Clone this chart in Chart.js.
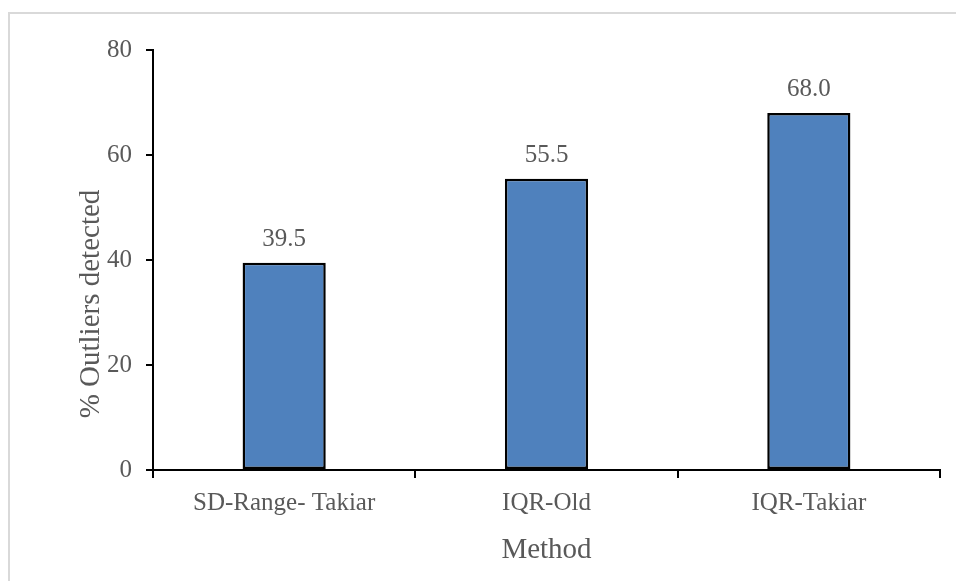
<!DOCTYPE html>
<html>
<head>
<meta charset="utf-8">
<script src="https://cdn.jsdelivr.net/npm/chart.js@4/dist/chart.umd.min.js"></script>
<style>
  html, body { margin: 0; padding: 0; background: #ffffff; }
  #wrap { position: relative; width: 956px; height: 581px; }
</style>
</head>
<body>
<div id="wrap"><canvas id="chart"></canvas></div>
<script>
// Share of outliers detected by each method
const methods = ['SD-Range- Takiar', 'IQR-Old', 'IQR-Takiar'];
const outlierPct = [39.5, 55.5, 68.0];
const yTitle = '% Outliers detected';
const xTitle = 'Method';

const FONT = "'Liberation Serif', 'Times New Roman', serif";
const TEXT = '#595959';

// Light frame around the chart box
const framePlugin = {
  id: 'frame',
  beforeDraw(chart) {
    const ctx = chart.ctx;
    ctx.save();
    ctx.strokeStyle = '#d9d9d9';
    ctx.lineWidth = 2;
    ctx.beginPath();
    ctx.moveTo(9, chart.height + 2);
    ctx.lineTo(9, 13);
    ctx.lineTo(chart.width + 2, 13);
    ctx.stroke();
    ctx.restore();
  }
};

// Value labels above each bar, and the vertical axis title
const labelPlugin = {
  id: 'valueLabels',
  afterDatasetsDraw(chart) {
    const ctx = chart.ctx;
    const meta = chart.getDatasetMeta(0);
    const values = chart.data.datasets[0].data;
    ctx.save();
    ctx.fillStyle = TEXT;
    ctx.font = '25px ' + FONT;
    ctx.textAlign = 'center';
    ctx.textBaseline = 'alphabetic';
    meta.data.forEach((bar, i) => {
      ctx.fillText(values[i].toFixed(1), bar.x, bar.y - 17);
    });
    ctx.restore();
  },
  afterDraw(chart) {
    const ctx = chart.ctx;
    ctx.save();
    ctx.fillStyle = TEXT;
    ctx.font = '29px ' + FONT;
    ctx.translate(99, 304);
    ctx.rotate(-Math.PI / 2);
    ctx.textAlign = 'center';
    ctx.textBaseline = 'alphabetic';
    ctx.fillText(yTitle, 0, 0);
    ctx.restore();
  }
};

new Chart(document.getElementById('chart'), {
  type: 'bar',
  data: {
    labels: methods,
    datasets: [{
      data: outlierPct,
      backgroundColor: '#4f81bd',
      borderColor: '#000000',
      borderWidth: 2.5,
      borderSkipped: false,
      categoryPercentage: 0.317,
      barPercentage: 1
    }]
  },
  options: {
    responsive: true,
    maintainAspectRatio: false,
    animation: false,
    layout: { padding: { top: 50, right: 16, left: 0, bottom: 0 } },
    plugins: {
      legend: { display: false },
      tooltip: { enabled: false }
    },
    scales: {
      x: {
        grid: {
          display: true, drawOnChartArea: false, drawTicks: true,
          tickLength: 8, color: '#000000', lineWidth: 2, offset: true
        },
        border: { display: true, color: '#000000', width: 2 },
        ticks: {
          color: TEXT, font: { family: FONT, size: 25 },
          padding: 10, maxRotation: 0, autoSkip: false
        },
        title: {
          display: true, text: xTitle, color: TEXT,
          font: { family: FONT, size: 29 }, padding: { top: 0, bottom: 13 }
        },
        afterFit(scale) { scale.height = 111; }
      },
      y: {
        min: 0, max: 80,
        ticks: {
          stepSize: 20, color: TEXT, font: { family: FONT, size: 25 }, padding: 14
        },
        grid: {
          display: true, drawOnChartArea: false, drawTicks: true,
          tickLength: 7, color: '#000000', lineWidth: 2
        },
        border: { display: true, color: '#000000', width: 2 },
        afterFit(scale) { scale.width = 153; }
      }
    }
  },
  plugins: [framePlugin, labelPlugin]
});
</script>
</body>
</html>
